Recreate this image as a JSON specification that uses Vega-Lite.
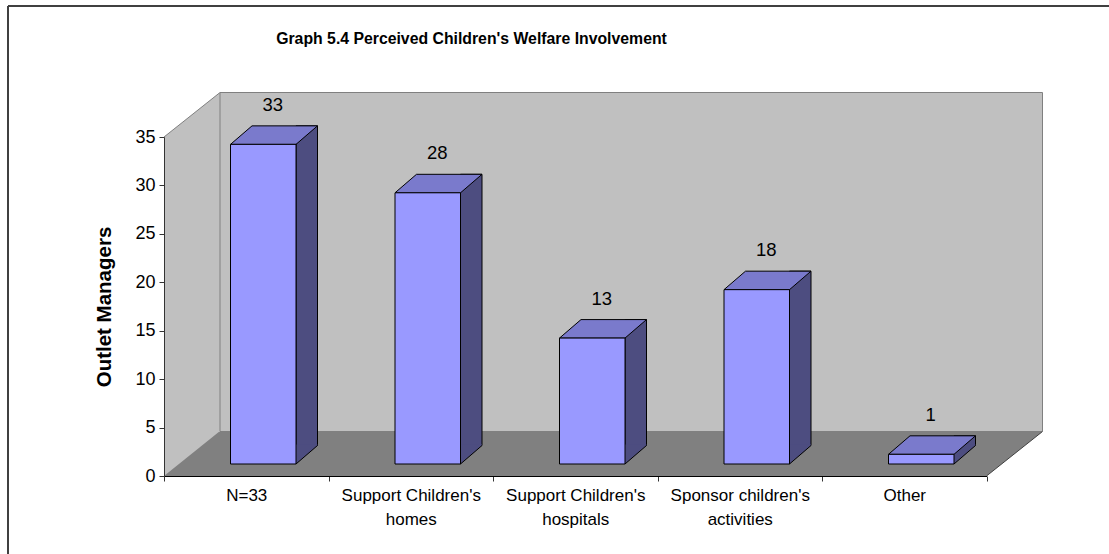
{
  "$schema": "https://vega.github.io/schema/vega-lite/v6.json",
  "autosize": "none",
  "width": 1101,
  "height": 548,
  "padding": {"left": 8, "top": 6, "right": 0, "bottom": 0},
  "background": "white",
  "title": {
    "text": "Graph 5.4 Perceived Children's Welfare Involvement",
    "font": "Liberation Sans",
    "fontSize": 15.8,
    "fontWeight": "bold",
    "color": "#000000",
    "anchor": "middle",
    "baseline": "alphabetic",
    "offset": -53.5,
    "dx": -87
  },
  "config": {
    "view": {"stroke": "#404040", "strokeWidth": 2, "strokeDash": [1101, 1649, 548, 0]},
    "text": {"font": "Liberation Sans"}
  },
  "data": {
    "values": [
      {"Category": "N=33", "Count": 33},
      {"Category": "Support Children's homes", "Count": 28},
      {"Category": "Support Children's hospitals", "Count": 13},
      {"Category": "Sponsor children's activities", "Count": 18},
      {"Category": "Other", "Count": 1}
    ]
  },
  "layer": [
    {
      "data": {"values": [{}]},
      "mark": {"type": "rect", "fill": "#C0C0C0", "x2Offset": 56, "yOffset": -44.5, "y2Offset": -44.5},
      "encoding": {
        "x": {"datum": "N=33", "bandPosition": 0},
        "x2": {"datum": "Other", "bandPosition": 1},
        "y": {"datum": 0, "type": "quantitative"},
        "y2": {"datum": 35}
      }
    },
    {
      "data": {"values": [{}]},
      "mark": {"type": "rect", "fill": null, "stroke": "#808080", "strokeWidth": 1, "xOffset": 56, "x2Offset": 56, "yOffset": -44.5, "y2Offset": -44.5},
      "encoding": {
        "x": {"datum": "N=33", "bandPosition": 0},
        "x2": {"datum": "Other", "bandPosition": 1},
        "y": {"datum": 0, "type": "quantitative"},
        "y2": {"datum": 35}
      }
    },
    {
      "data": {"values": [{}]},
      "mark": {"type": "rect", "fill": "#808080", "x2Offset": 56, "y2Offset": -44.5},
      "encoding": {
        "x": {"datum": "N=33", "bandPosition": 0},
        "x2": {"datum": "Other", "bandPosition": 1},
        "y": {"datum": 0, "type": "quantitative"},
        "y2": {"datum": 0}
      }
    },
    {
      "data": {"values": [{}]},
      "mark": {"type": "point", "shape": "M0,0 L0,-45 L56,-45 Z", "size": 4, "filled": true, "fill": "#C0C0C0", "strokeWidth": 0, "opacity": 1},
      "encoding": {
        "x": {"datum": "N=33", "bandPosition": 0},
        "y": {"datum": 0, "type": "quantitative"}
      }
    },
    {
      "data": {"values": [{}]},
      "mark": {"type": "point", "shape": "M0,0 L56,-44.5 L58,-44.5 L58,2 L0,2 Z", "size": 4, "filled": true, "fill": "#FFFFFF", "strokeWidth": 0, "opacity": 1},
      "encoding": {
        "x": {"datum": "Other", "bandPosition": 1},
        "y": {"datum": 0, "type": "quantitative"}
      }
    },
    {
      "data": {"values": [{}]},
      "mark": {"type": "point", "shape": "M0,0 L56,-44.5", "size": 4, "filled": false, "stroke": "#404040", "strokeWidth": 1, "opacity": 1},
      "encoding": {
        "x": {"datum": "Other", "bandPosition": 1},
        "y": {"datum": 0, "type": "quantitative"}
      }
    },
    {
      "data": {"values": [{}]},
      "mark": {"type": "point", "shape": "M0,0 L56,-44.5 L56,-47 L-1,-47 L-1,0 Z", "size": 4, "filled": true, "fill": "#FFFFFF", "strokeWidth": 0, "opacity": 1},
      "encoding": {
        "x": {"datum": "N=33", "bandPosition": 0},
        "y": {"datum": 35, "type": "quantitative"}
      }
    },
    {
      "data": {"values": [{}]},
      "mark": {"type": "point", "shape": "M0,0 L56,-44.5", "size": 4, "filled": false, "stroke": "#808080", "strokeWidth": 1, "opacity": 1},
      "encoding": {
        "x": {"datum": "N=33", "bandPosition": 0},
        "y": {"datum": 35, "type": "quantitative"}
      }
    },
    {
      "mark": {"type": "bar", "width": 21.5, "xOffset": 60.5, "yOffset": -30.5, "fill": "#4D4D80", "stroke": "#000000", "strokeWidth": 1},
      "encoding": {
        "x": {"field": "Category", "type": "nominal"},
        "y": {"field": "Count", "type": "quantitative"}
      }
    },
    {
      "mark": {"type": "point", "shape": "M49.75,-31.6 L71.25,-31.6 L71.25,-30.5 L49.75,-12 Z", "size": 4, "filled": true, "fill": "#4D4D80", "strokeWidth": 0, "opacity": 1},
      "encoding": {
        "x": {"field": "Category", "type": "nominal"},
        "y": {"datum": 0, "type": "quantitative"}
      }
    },
    {
      "mark": {"type": "point", "shape": "M49.75,-12 L71.25,-30.5", "size": 4, "filled": false, "stroke": "#000000", "strokeWidth": 1, "opacity": 1},
      "encoding": {
        "x": {"field": "Category", "type": "nominal"},
        "y": {"datum": 0, "type": "quantitative"}
      }
    },
    {
      "mark": {"type": "point", "shape": "M-15.75,-12 L5.75,-30.5 L71.25,-30.5 L49.75,-12 Z", "size": 4, "filled": true, "fill": "#7A7ACC", "stroke": "#000000", "strokeWidth": 1, "opacity": 1},
      "encoding": {
        "x": {"field": "Category", "type": "nominal"},
        "y": {"field": "Count", "type": "quantitative"}
      }
    },
    {
      "mark": {"type": "bar", "width": 65.5, "xOffset": 17, "yOffset": -12, "fill": "#9999FF", "stroke": "#000000", "strokeWidth": 1},
      "encoding": {
        "x": {
          "field": "Category",
          "type": "nominal",
          "scale": {
            "domain": ["N=33", "Support Children's homes", "Support Children's hospitals", "Sponsor children's activities", "Other"],
            "range": [156, 978.5],
            "paddingInner": 0,
            "paddingOuter": 0
          },
          "axis": {
            "title": null,
            "offset": -78,
            "zindex": 1,
            "tickBand": "extent",
            "tickSize": 5,
            "tickColor": "#333333",
            "domainColor": "#000000",
            "domainWidth": 1,
            "labelAngle": 0,
            "labelAlign": "center",
            "labelFont": "Liberation Sans",
            "labelFontSize": 17,
            "labelColor": "#000000",
            "labelPadding": 14,
            "labelLineHeight": 24,
            "labelOverlap": false,
            "labelBound": false,
            "labelLimit": 300,
            "labelExpr": "split(replace(datum.label, \"'s \", \"'s|\"), '|')",
            "grid": false
          }
        },
        "y": {
          "field": "Count",
          "type": "quantitative",
          "scale": {"domain": [0, 35], "range": [470, 131], "nice": false, "zero": false},
          "axis": {
            "title": "Outlet Managers",
            "titleFont": "Liberation Sans",
            "titleFontSize": 20.5,
            "titleFontWeight": "bold",
            "titleColor": "#000000",
            "titlePadding": 20,
            "offset": -156,
            "zindex": 1,
            "values": [0, 5, 10, 15, 20, 25, 30, 35],
            "tickSize": 5,
            "tickColor": "#333333",
            "domainColor": "#333333",
            "labelFont": "Liberation Sans",
            "labelFontSize": 18,
            "labelColor": "#000000",
            "labelPadding": 4,
            "grid": false
          }
        }
      }
    },
    {
      "mark": {"type": "text", "dx": 26.5, "dy": -51.5, "baseline": "middle", "align": "center", "fontSize": 18.5, "font": "Liberation Sans", "color": "#000000"},
      "encoding": {
        "x": {"field": "Category", "type": "nominal"},
        "y": {"field": "Count", "type": "quantitative"},
        "text": {"field": "Count", "type": "quantitative"}
      }
    }
  ]
}
